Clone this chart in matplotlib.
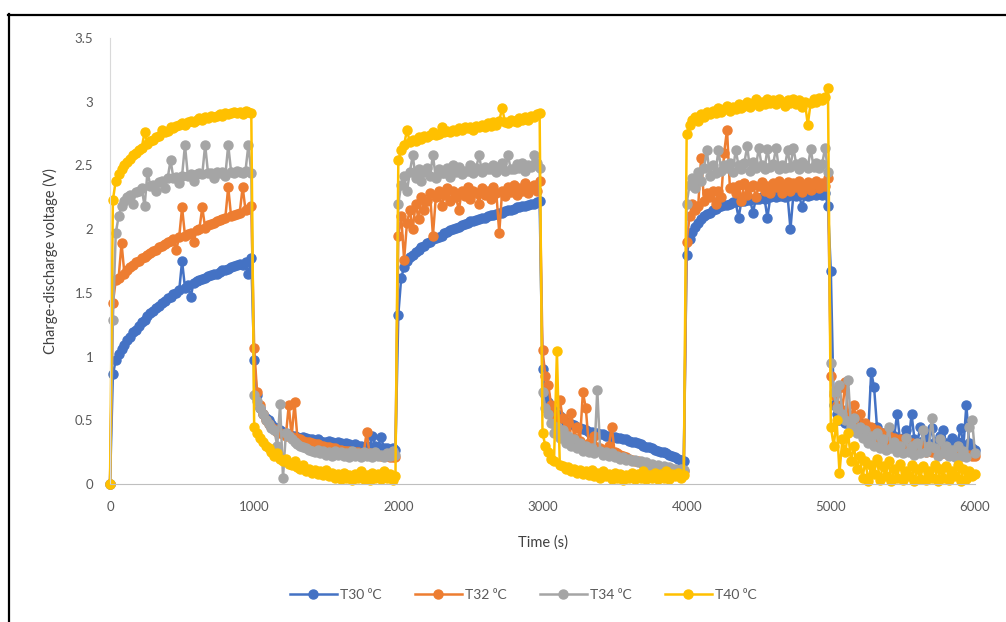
import matplotlib
matplotlib.use("Agg")
import matplotlib.pyplot as plt
from matplotlib.lines import Line2D
from matplotlib.ticker import FuncFormatter

# === DATA (one sample every 20 s) === #
TIME = list(range(0, 6001, 20))

T30 = [
    # 0 - 1000 s charge
    0.00, 0.86, 0.97, 1.02, 1.06, 1.09, 1.13, 1.15, 1.19, 1.21,
    1.24, 1.27, 1.29, 1.32, 1.34, 1.36, 1.38, 1.40, 1.42, 1.44,
    1.46, 1.47, 1.49, 1.50, 1.52, 1.75, 1.54, 1.56, 1.47, 1.58,
    1.59, 1.60, 1.61, 1.62, 1.63, 1.64, 1.65, 1.65, 1.66, 1.68,
    1.68, 1.69, 1.70, 1.71, 1.72, 1.73, 1.72, 1.74, 1.65, 1.77,
    # 1000 - 2000 s discharge
    0.97, 0.70, 0.60, 0.55, 0.52, 0.50, 0.47, 0.45, 0.44, 0.42,
    0.41, 0.40, 0.39, 0.38, 0.38, 0.37, 0.36, 0.37, 0.36, 0.35,
    0.35, 0.34, 0.35, 0.34, 0.33, 0.33, 0.34, 0.33, 0.32, 0.33,
    0.32, 0.31, 0.32, 0.31, 0.30, 0.31, 0.30, 0.30, 0.29, 0.30,
    0.29, 0.38, 0.30, 0.29, 0.37, 0.28, 0.28, 0.27, 0.28, 0.27,
    # 2000 - 3000 s charge
    1.33, 1.62, 1.70, 1.75, 1.78, 1.80, 1.82, 1.84, 1.86, 1.87,
    1.89, 1.90, 1.92, 1.93, 1.94, 1.95, 1.97, 1.98, 1.99, 2.00,
    2.01, 2.02, 2.03, 2.04, 2.05, 2.06, 2.06, 2.07, 2.08, 2.09,
    2.09, 2.10, 2.11, 2.11, 2.12, 2.13, 2.13, 2.14, 2.15, 2.15,
    2.16, 2.17, 2.17, 2.18, 2.18, 2.19, 2.20, 2.20, 2.21, 2.22,
    # 3000 - 4000 s discharge
    0.90, 0.70, 0.64, 0.60, 0.57, 0.55, 0.53, 0.51, 0.49, 0.48,
    0.47, 0.46, 0.45, 0.44, 0.43, 0.42, 0.41, 0.41, 0.40, 0.40,
    0.39, 0.39, 0.38, 0.38, 0.37, 0.37, 0.36, 0.36, 0.35, 0.35,
    0.34, 0.33, 0.33, 0.32, 0.31, 0.30, 0.29, 0.29, 0.28, 0.27,
    0.26, 0.25, 0.25, 0.24, 0.23, 0.22, 0.21, 0.20, 0.19, 0.18,
    # 4000 - 5000 s charge
    1.80, 1.92, 1.98, 2.02, 2.05, 2.08, 2.10, 2.12, 2.13, 2.15,
    2.16, 2.17, 2.18, 2.19, 2.19, 2.20, 2.21, 2.21, 2.09, 2.22,
    2.22, 2.23, 2.23, 2.13, 2.24, 2.24, 2.25, 2.24, 2.09, 2.25,
    2.26, 2.25, 2.26, 2.26, 2.25, 2.26, 2.00, 2.27, 2.26, 2.27,
    2.17, 2.27, 2.26, 2.27, 2.28, 2.27, 2.28, 2.27, 2.28, 2.18,
    # 5000 - 6000 s discharge
    1.67, 0.62, 0.55, 0.50, 0.58, 0.48, 0.52, 0.45, 0.50, 0.42,
    0.48, 0.40, 0.45, 0.42, 0.88, 0.76, 0.45, 0.36, 0.40, 0.38,
    0.35, 0.40, 0.38, 0.55, 0.34, 0.36, 0.42, 0.33, 0.55, 0.35,
    0.32, 0.45, 0.34, 0.40, 0.31, 0.44, 0.33, 0.30, 0.38, 0.42,
    0.32, 0.30, 0.36, 0.29, 0.33, 0.44, 0.30, 0.62, 0.32, 0.28,
    0.27,
]

T32 = [
    0.00, 1.42, 1.60, 1.62, 1.89, 1.65, 1.68, 1.70, 1.72, 1.74,
    1.75, 1.77, 1.78, 1.80, 1.81, 1.83, 1.84, 1.86, 1.87, 1.88,
    1.90, 1.91, 1.92, 1.84, 1.94, 2.17, 1.95, 1.96, 1.97, 1.90,
    1.99, 2.00, 2.17, 2.01, 2.03, 2.04, 2.05, 2.06, 2.07, 2.08,
    2.09, 2.33, 2.10, 2.11, 2.12, 2.13, 2.33, 2.15, 2.16, 2.18,
    1.07, 0.72, 0.62, 0.55, 0.50, 0.47, 0.45, 0.43, 0.41, 0.40,
    0.39, 0.38, 0.62, 0.37, 0.64, 0.36, 0.35, 0.34, 0.33, 0.33,
    0.32, 0.31, 0.31, 0.30, 0.30, 0.29, 0.29, 0.28, 0.28, 0.27,
    0.27, 0.26, 0.26, 0.26, 0.25, 0.25, 0.25, 0.24, 0.24, 0.41,
    0.24, 0.23, 0.23, 0.23, 0.22, 0.22, 0.22, 0.21, 0.21, 0.21,
    1.95, 2.10, 1.76, 2.05, 2.15, 2.00, 2.20, 2.08, 2.25, 2.15,
    2.22, 2.28, 1.95, 2.25, 2.30, 2.18, 2.27, 2.32, 2.22, 2.30,
    2.25, 2.15, 2.30, 2.26, 2.33, 2.24, 2.30, 2.28, 2.20, 2.32,
    2.27, 2.30, 2.24, 2.33, 2.28, 1.97, 2.30, 2.26, 2.33, 2.29,
    2.35, 2.27, 2.32, 2.30, 2.36, 2.28, 2.33, 2.35, 2.30, 2.38,
    1.05, 0.85, 0.78, 0.62, 0.55, 0.50, 0.66, 0.52, 0.42, 0.48,
    0.56, 0.36, 0.45, 0.34, 0.72, 0.60, 0.32, 0.30, 0.38, 0.29,
    0.28, 0.27, 0.26, 0.30, 0.45, 0.25, 0.24, 0.23, 0.22, 0.21,
    0.20, 0.19, 0.18, 0.18, 0.17, 0.16, 0.16, 0.15, 0.15, 0.14,
    0.14, 0.13, 0.13, 0.12, 0.12, 0.12, 0.11, 0.11, 0.11, 0.10,
    1.90, 2.10, 2.20, 2.15, 2.18, 2.56, 2.22, 2.28, 2.25, 2.30,
    2.20, 2.30, 2.25, 2.60, 2.78, 2.32, 2.33, 2.28, 2.35, 2.22,
    2.36, 2.27, 2.33, 2.35, 2.25, 2.34, 2.37, 2.30, 2.34, 2.28,
    2.36, 2.33, 2.38, 2.28, 2.35, 2.37, 2.30, 2.36, 2.33, 2.38,
    2.29, 2.35, 2.37, 2.31, 2.36, 2.38, 2.32, 2.36, 2.34, 2.40,
    0.85, 0.70, 0.62, 0.75, 0.58, 0.80, 0.55, 0.50, 0.62, 0.45,
    0.55, 0.42, 0.48, 0.40, 0.45, 0.38, 0.42, 0.35, 0.40, 0.33,
    0.38, 0.32, 0.36, 0.30, 0.35, 0.30, 0.33, 0.28, 0.32, 0.27,
    0.30, 0.26, 0.30, 0.25, 0.28, 0.25, 0.27, 0.24, 0.26, 0.24,
    0.25, 0.23, 0.26, 0.23, 0.25, 0.22, 0.24, 0.22, 0.23, 0.22,
    0.22,
]

T34 = [
    0.00, 1.29, 1.97, 2.10, 2.18, 2.22, 2.25, 2.27, 2.20, 2.29,
    2.30, 2.32, 2.18, 2.45, 2.34, 2.35, 2.30, 2.37, 2.38, 2.32,
    2.40, 2.54, 2.40, 2.41, 2.36, 2.42, 2.66, 2.42, 2.43, 2.38,
    2.43, 2.44, 2.43, 2.66, 2.44, 2.44, 2.40, 2.45, 2.44, 2.45,
    2.42, 2.66, 2.45, 2.44, 2.46, 2.45, 2.44, 2.46, 2.66, 2.44,
    0.70, 0.65, 0.60, 0.55, 0.50, 0.47, 0.44, 0.42, 0.30, 0.63,
    0.05, 0.40, 0.38, 0.35, 0.33, 0.31, 0.30, 0.29, 0.28, 0.27,
    0.26, 0.25, 0.27, 0.24, 0.26, 0.23, 0.25, 0.22, 0.26, 0.23,
    0.25, 0.22, 0.24, 0.21, 0.26, 0.22, 0.24, 0.21, 0.25, 0.22,
    0.24, 0.21, 0.25, 0.22, 0.23, 0.21, 0.24, 0.22, 0.26, 0.23,
    2.20, 2.35, 2.42, 2.30, 2.45, 2.58, 2.40, 2.47, 2.38, 2.45,
    2.48, 2.42, 2.58, 2.40, 2.47, 2.44, 2.44, 2.48, 2.41, 2.50,
    2.45, 2.49, 2.43, 2.46, 2.46, 2.50, 2.44, 2.48, 2.58, 2.45,
    2.49, 2.47, 2.47, 2.50, 2.45, 2.49, 2.52, 2.46, 2.58, 2.47,
    2.47, 2.51, 2.48, 2.52, 2.46, 2.50, 2.49, 2.58, 2.52, 2.48,
    0.72, 0.60, 0.55, 0.48, 0.40, 0.45, 0.36, 0.42, 0.32, 0.38,
    0.30, 0.35, 0.28, 0.32, 0.26, 0.30, 0.25, 0.28, 0.24, 0.74,
    0.26, 0.23, 0.25, 0.22, 0.24, 0.21, 0.22, 0.20, 0.21, 0.19,
    0.20, 0.18, 0.19, 0.17, 0.18, 0.16, 0.17, 0.15, 0.16, 0.14,
    0.15, 0.13, 0.14, 0.12, 0.13, 0.12, 0.12, 0.11, 0.12, 0.11,
    2.20, 2.35, 2.40, 2.32, 2.45, 2.38, 2.48, 2.62, 2.42, 2.50,
    2.44, 2.62, 2.46, 2.50, 2.48, 2.52, 2.45, 2.62, 2.50, 2.47,
    2.52, 2.65, 2.46, 2.53, 2.48, 2.64, 2.50, 2.47, 2.63, 2.49,
    2.51, 2.64, 2.47, 2.50, 2.48, 2.62, 2.49, 2.64, 2.51, 2.47,
    2.53, 2.50, 2.48, 2.63, 2.49, 2.52, 2.48, 2.51, 2.64, 2.45,
    0.95, 0.72, 0.60, 0.78, 0.55, 0.50, 0.82, 0.45, 0.52, 0.40,
    0.45, 0.36, 0.42, 0.32, 0.38, 0.30, 0.40, 0.28, 0.35, 0.27,
    0.45, 0.28, 0.33, 0.25, 0.30, 0.24, 0.36, 0.25, 0.30, 0.23,
    0.32, 0.24, 0.42, 0.25, 0.30, 0.52, 0.28, 0.22, 0.35, 0.24,
    0.30, 0.22, 0.27, 0.21, 0.30, 0.22, 0.26, 0.21, 0.45, 0.50,
    0.24,
]

T40 = [
    0.00, 2.23, 2.38, 2.43, 2.47, 2.50, 2.53, 2.55, 2.58, 2.60,
    2.62, 2.64, 2.76, 2.67, 2.69, 2.70, 2.72, 2.73, 2.78, 2.76,
    2.77, 2.80, 2.79, 2.81, 2.82, 2.83, 2.82, 2.84, 2.85, 2.84,
    2.86, 2.87, 2.86, 2.88, 2.87, 2.89, 2.88, 2.89, 2.90, 2.89,
    2.91, 2.90, 2.91, 2.92, 2.91, 2.92, 2.90, 2.93, 2.92, 2.91,
    0.45, 0.40, 0.36, 0.33, 0.30, 0.28, 0.25, 0.22, 0.24, 0.20,
    0.18, 0.20, 0.16, 0.15, 0.18, 0.13, 0.12, 0.15, 0.10, 0.12,
    0.09, 0.11, 0.08, 0.10, 0.07, 0.11, 0.06, 0.09, 0.05, 0.08,
    0.04, 0.09, 0.05, 0.07, 0.03, 0.08, 0.05, 0.10, 0.04, 0.07,
    0.03, 0.09, 0.05, 0.08, 0.04, 0.10, 0.05, 0.08, 0.03, 0.06,
    2.54, 2.62, 2.66, 2.78, 2.68, 2.70, 2.69, 2.72, 2.71, 2.73,
    2.72, 2.74, 2.76, 2.74, 2.75, 2.80, 2.76, 2.77, 2.76, 2.78,
    2.77, 2.79, 2.78, 2.80, 2.79, 2.80, 2.78, 2.81, 2.80, 2.82,
    2.80, 2.83, 2.81, 2.84, 2.82, 2.85, 2.95, 2.84, 2.83, 2.86,
    2.85, 2.84, 2.87, 2.86, 2.88, 2.86, 2.89, 2.88, 2.90, 2.91,
    0.40, 0.30, 0.25, 0.20, 0.18, 1.04, 0.15, 0.14, 0.12, 0.13,
    0.10, 0.12, 0.09, 0.11, 0.08, 0.10, 0.07, 0.11, 0.06, 0.09,
    0.05, 0.10, 0.06, 0.08, 0.04, 0.09, 0.05, 0.08, 0.03, 0.07,
    0.05, 0.09, 0.04, 0.08, 0.05, 0.10, 0.04, 0.07, 0.05, 0.09,
    0.04, 0.08, 0.05, 0.10, 0.04, 0.08, 0.06, 0.09, 0.05, 0.07,
    2.75, 2.82, 2.86, 2.88, 2.85, 2.90, 2.88, 2.92, 2.90, 2.93,
    2.91, 2.95, 2.92, 2.94, 2.97, 2.93, 2.96, 2.94, 2.98, 2.95,
    2.97, 3.00, 2.96, 2.99, 3.02, 2.97, 3.00, 2.98, 3.02, 2.99,
    3.01, 2.98, 3.02, 3.00, 2.97, 3.01, 2.99, 3.02, 2.98, 3.01,
    2.96, 3.00, 2.82, 2.99, 3.02, 3.00, 3.03, 3.01, 3.04, 3.11,
    0.45, 0.30, 0.50, 0.09, 0.35, 0.25, 0.40, 0.18, 0.30, 0.12,
    0.22, 0.05, 0.18, 0.02, 0.15, 0.08, 0.20, 0.03, 0.14, 0.06,
    0.18, 0.02, 0.12, 0.05, 0.16, 0.03, 0.10, 0.06, 0.15, 0.02,
    0.12, 0.04, 0.14, 0.03, 0.10, 0.05, 0.15, 0.02, 0.12, 0.05,
    0.14, 0.03, 0.10, 0.06, 0.15, 0.02, 0.12, 0.04, 0.10, 0.06,
    0.08,
]

SERIES = [
    ("T30 \u2070C", T30, "#4472C4"),
    ("T32 \u2070C", T32, "#ED7D31"),
    ("T34 \u2070C", T34, "#A5A5A5"),
    ("T40 \u2070C", T40, "#FFC000"),
]

X_TICKS = [0, 1000, 2000, 3000, 4000, 5000, 6000]
Y_TICKS = [0, 0.5, 1, 1.5, 2, 2.5, 3, 3.5]

# === PLOT === #
plt.rcParams['font.family'] = ['Lato', 'DejaVu Sans']

fig = plt.figure(figsize=(10.06, 6.22), dpi=100)
ax = fig.add_axes([110 / 1006, 138 / 622, 865 / 1006, 446 / 622])

for name, vals, color in SERIES:
    assert len(vals) == len(TIME), name
    ax.plot(TIME, vals, color=color, marker='o', markersize=6.5,
            linewidth=1.8, label=name, clip_on=False)

ax.set_xlim(0, 6000)
ax.set_ylim(0, 3.5)
ax.set_xticks(X_TICKS)
ax.set_yticks(Y_TICKS)
ax.yaxis.set_major_formatter(FuncFormatter(lambda v, p: f"{v:g}"))
ax.tick_params(length=0, pad=12, labelsize=9.5, labelcolor="#595959")

for side in ("top", "right"):
    ax.spines[side].set_visible(False)
ax.spines["left"].set_color("#D9D9D9")
ax.spines["bottom"].set_color("#BFBFBF")

ax.set_xlabel("Time (s)", fontsize=10.5, color="#404040", labelpad=16)
ax.set_ylabel("Charge-discharge voltage (V)", fontsize=10.5, color="#404040", labelpad=12)

leg = fig.legend(loc="center", bbox_to_anchor=(0.52, 1 - 595 / 622), ncol=4,
                 frameon=False, fontsize=10, handlelength=3.4,
                 columnspacing=2.4, handletextpad=0.2)
for t in leg.get_texts():
    t.set_color("#595959")

# outer frame (left and top edges visible)
fig.add_artist(Line2D([8.5 / 1006, 8.5 / 1006], [0, 1 - 14 / 622], color="black", lw=1.6))
fig.add_artist(Line2D([8 / 1006, 1], [1 - 14.5 / 622, 1 - 14.5 / 622], color="black", lw=1.6))

fig.savefig("out.png", dpi=100)
